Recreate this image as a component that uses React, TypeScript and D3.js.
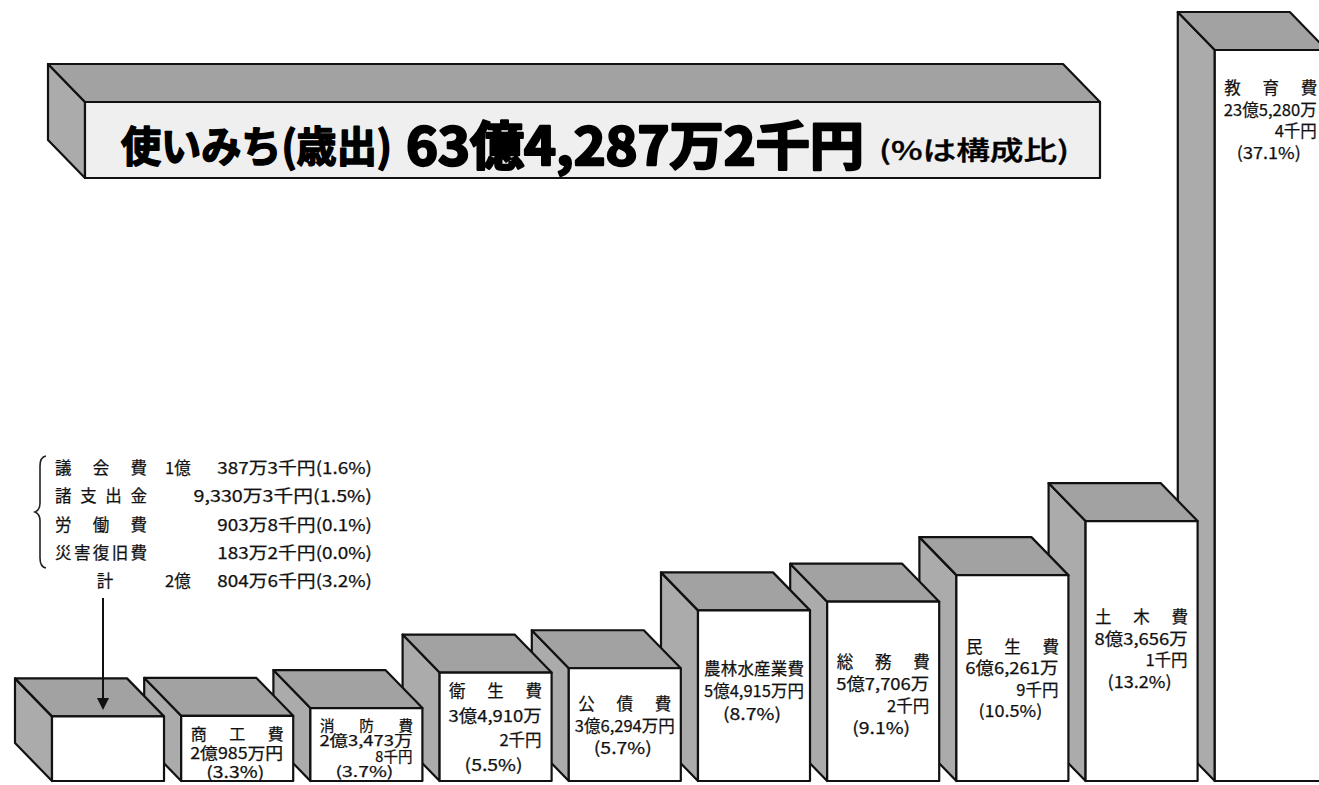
import React from "react";
import * as d3 from "d3";

// ---------- data ----------
const categories = ["その他", "商工費", "消防費", "衛生費", "公債費", "農林水産業費", "総務費", "民生費", "土木費", "教育費"];
const nameLabels = ["", "商　工　費", "消　防　費", "衛　生　費", "公　債　費", "農林水産業費", "総　務　費", "民　生　費", "土　木　費", "教　育　費"];
// amounts in 千円
const amounts = [208046, 209850, 234738, 349102, 362940, 549150, 577062, 662619, 836561, 2352804];
const amountLines: string[][] = [
  [],
  ["2億985万円"],
  ["2億3,473万", "8千円"],
  ["3億4,910万", "2千円"],
  ["3億6,294万円"],
  ["5億4,915万円"],
  ["5億7,706万", "2千円"],
  ["6億6,261万", "9千円"],
  ["8億3,656万", "1千円"],
  ["23億5,280万", "4千円"],
];
const shares = ["3.2%", "3.3%", "3.7%", "5.5%", "5.7%", "8.7%", "9.1%", "10.5%", "13.2%", "37.1%"];

const otherNames = ["議　会　費", "諸支出金", "労　働　費", "災害復旧費"];
const otherOku = ["1億", "", "", ""];
const otherRest = ["387万3千円(1.6%)", "9,330万3千円(1.5%)", "903万8千円(0.1%)", "183万2千円(0.0%)"];
const totalName = "計";
const totalOku = "2億";
const totalRest = "804万6千円(3.2%)";

const titleMain = "使いみち(歳出)";
const titleAmount = "63億4,287万2千円";
const titleNote = "(%は構成比)";

// ---------- layout ----------
const W = 1319;
const H = 785;
const FONT = '"Noto Sans CJK JP", "Noto Sans", sans-serif';
const DX = 37;
const DY = 38;
const STROKE = "#111";
const TOP_FILL = "#a2a2a2";
const SIDE_FILL = "#ababab";

const labelLayout = [
  { off: 0, gap: 0 },
  { off: 17, gap: 19 },
  { off: 16, gap: 15.5 },
  { off: 17.5, gap: 24.5 },
  { off: 35, gap: 22 },
  { off: 57.5, gap: 22.5 },
  { off: 59, gap: 22 },
  { off: 71, gap: 21.3 },
  { off: 95, gap: 21.7 },
  { off: 37, gap: 21.7 },
];

function Box({ x0, x1, yTop, yBot, front }: { x0: number; x1: number; yTop: number; yBot: number; front: string }) {
  const side = [[x0, yTop], [x0 - DX, yTop - DY], [x0 - DX, yBot - DY], [x0, yBot]];
  const top = [[x0, yTop], [x0 - DX, yTop - DY], [x1 - DX, yTop - DY], [x1, yTop]];
  const line = d3.line();
  return (
    <g stroke={STROKE} strokeWidth={2.2} strokeLinejoin="round">
      <path d={line(side as [number, number][]) + "Z"} fill={SIDE_FILL} />
      <path d={line(top as [number, number][]) + "Z"} fill={TOP_FILL} />
      <rect x={x0} y={yTop} width={x1 - x0} height={yBot - yTop} fill={front} />
    </g>
  );
}

export default function App() {
  const baseY = 781;
  const y = d3.scaleLinear().domain([0, d3.max(amounts) as number]).range([baseY, 50]);
  const x = d3
    .scaleBand<string>()
    .domain(categories)
    .range([52, 52 + 9 * 129.2 + 112])
    .paddingInner(0.133)
    .paddingOuter(0);
  const bw = x.bandwidth();

  const order = categories.map((_, i) => i).reverse();

  const rowY = (i: number) => 467 + i * 28.3;

  // arrow to first bar
  const ax = (x(categories[0]) as number) + 51;

  return (
    <svg
      width={W}
      height={H}
      style={{ position: "absolute", left: 0, top: 0, background: "#fff" }}
      fontFamily={FONT}
    >
      <rect x={0} y={0} width={W} height={H} fill="#fff" />

      {/* title banner */}
      <Box x0={85} x1={1100} yTop={102} yBot={178} front="#efefef" />
      <g fill="#000" stroke="#000" strokeLinejoin="round">
        <text x={121} y={143} fontSize={42} fontWeight={700} strokeWidth={1.6} dominantBaseline="central" textLength={271} lengthAdjust="spacingAndGlyphs">
          {titleMain}
        </text>
        <text x={406} y={142} fontSize={52} fontWeight={700} strokeWidth={2.4} dominantBaseline="central" textLength={458} lengthAdjust="spacingAndGlyphs">
          {titleAmount}
        </text>
        <text x={879} y={148} fontSize={26} fontWeight={500} strokeWidth={0.4} dominantBaseline="central" textLength={190} lengthAdjust="spacingAndGlyphs">
          {titleNote}
        </text>
      </g>

      {/* bars, drawn right to left */}
      {order.map((i) => {
        const c = categories[i];
        const x0 = x(c) as number;
        const x1 = x0 + bw;
        const yt = y(amounts[i]);
        return <Box key={c} x0={x0} x1={x1} yTop={yt} yBot={baseY} front="#fff" />;
      })}

      {/* bar labels */}
      {categories.map((c, i) => {
        if (!nameLabels[i]) return null;
        const x0 = x(c) as number;
        const bl = x0 + 9;
        const br = x0 + bw - 10;
        const cx = x0 + bw / 2;
        const yt = y(amounts[i]);
        const { off, gap } = labelLayout[i];
        const fs = gap >= 21 ? 16.5 : Math.min(16, gap - 1);
        const ys = (k: number) => yt + off + k * gap;
        const lines = amountLines[i];
        const nameW = nameLabels[i].length > 5 ? 100 : br - bl;
        const pct = "(" + shares[i] + ")";
        return (
          <g key={c} fontSize={fs} fill="#111" stroke="#111" strokeWidth={0.25}>
            <text x={cx - nameW / 2} y={ys(0)} dominantBaseline="central" textLength={nameW} lengthAdjust="spacing">
              {nameLabels[i]}
            </text>
            {lines.map((ln, k) =>
              k === 0 ? (
                <text
                  key={k}
                  x={lines.length === 1 && ln.length > 8 ? cx - 50 : bl}
                  y={ys(1)}
                  dominantBaseline="central"
                  textLength={lines.length === 1 && ln.length > 8 ? 100 : br - bl}
                  lengthAdjust="spacingAndGlyphs"
                >
                  {ln}
                </text>
              ) : (
                <text key={k} x={br} y={ys(1 + k)} dominantBaseline="central" textAnchor="end">
                  {ln}
                </text>
              )
            )}
            <text
              x={cx - 2 - (pct.length > 6 ? 32 : 29)}
              y={ys(1 + lines.length)}
              dominantBaseline="central"
              textLength={pct.length > 6 ? 64 : 58}
              lengthAdjust="spacingAndGlyphs"
            >
              {pct}
            </text>
          </g>
        );
      })}

      {/* breakdown of その他 */}
      <g fontSize={16.5} fill="#111" stroke="#111" strokeWidth={0.25}>
        {otherNames.map((n, i) => (
          <g key={n}>
            <text x={55} y={rowY(i)} dominantBaseline="central" textLength={92} lengthAdjust="spacing">
              {n}
            </text>
            {otherOku[i] && (
              <text x={165} y={rowY(i)} dominantBaseline="central">
                {otherOku[i]}
              </text>
            )}
            <text
              x={372}
              y={rowY(i)}
              dominantBaseline="central"
              textAnchor="end"
              textLength={otherRest[i].length * 11.9}
              lengthAdjust="spacingAndGlyphs"
            >
              {otherRest[i]}
            </text>
          </g>
        ))}
        <text x={105} y={rowY(4)} dominantBaseline="central" textAnchor="middle">
          {totalName}
        </text>
        <text x={165} y={rowY(4)} dominantBaseline="central">
          {totalOku}
        </text>
        <text
          x={372}
          y={rowY(4)}
          dominantBaseline="central"
          textAnchor="end"
          textLength={totalRest.length * 11.9}
          lengthAdjust="spacingAndGlyphs"
        >
          {totalRest}
        </text>
      </g>

      {/* brace */}
      <path
        d="M46,456 Q40,457 40,466 L40,503 Q40,510 35,512 Q40,514 40,521 L40,558 Q40,567 46,568"
        fill="none"
        stroke="#222"
        strokeWidth={1.6}
      />

      {/* arrow */}
      <line x1={ax} y1={598} x2={ax} y2={700} stroke="#111" strokeWidth={2} />
      <path d={`M${ax - 6},${698} L${ax + 6},${698} L${ax},${710} Z`} fill="#111" />
    </svg>
  );
}
